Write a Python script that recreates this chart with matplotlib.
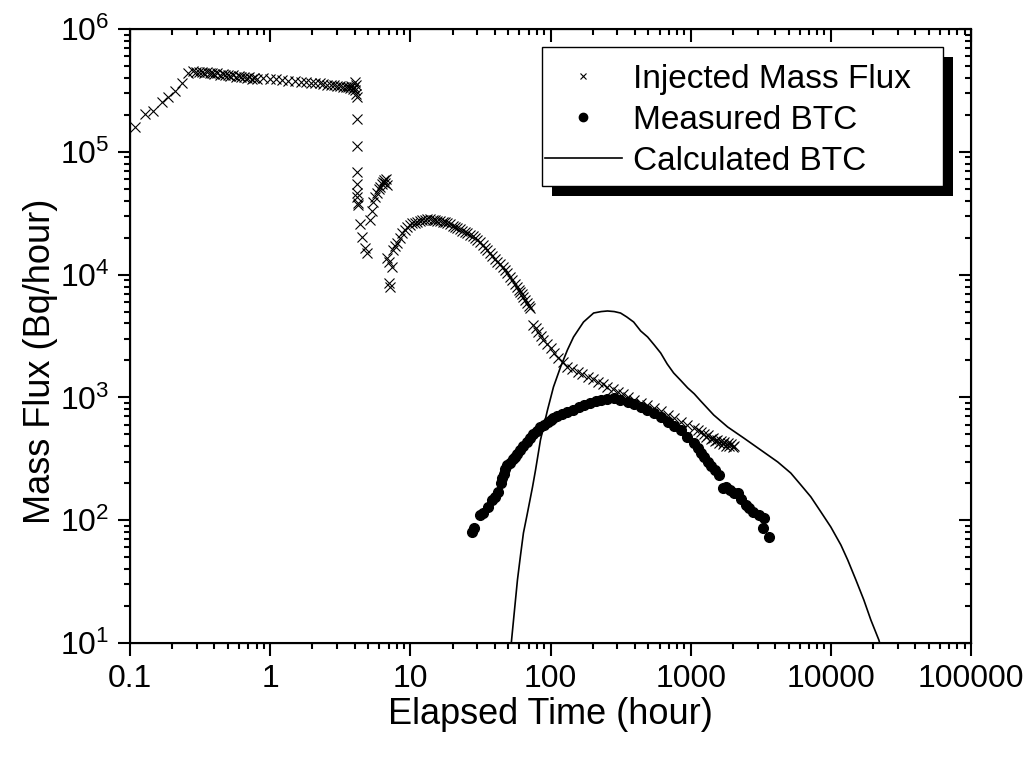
import numpy as np
import matplotlib
matplotlib.use("Agg")
import matplotlib.pyplot as plt
from matplotlib.patches import Rectangle
from matplotlib.ticker import LogLocator, FixedLocator, FixedFormatter, NullFormatter

plt.rcParams['font.family'] = ['Liberation Sans', 'DejaVu Sans']
plt.rcParams['mathtext.default'] = 'regular'

# injected mass flux (hour, Bq/hour)
injected = [
    (0.109, 1.6e5), (0.128, 2.05e5), (0.146, 2.15e5), (0.169, 2.55e5), (0.187, 2.8e5),
    (0.21, 3.15e5), (0.235, 3.65e5), (0.26, 4.4e5),
    (0.28, 4.55e5), (0.295, 4.5e5), (0.31, 4.45e5), (0.325, 4.5e5), (0.34, 4.4e5),
    (0.355, 4.45e5), (0.37, 4.35e5), (0.385, 4.4e5), (0.40, 4.3e5), (0.42, 4.35e5),
    (0.44, 4.25e5), (0.46, 4.3e5), (0.48, 4.2e5), (0.50, 4.25e5), (0.52, 4.15e5),
    (0.545, 4.2e5), (0.57, 4.1e5), (0.595, 4.15e5), (0.62, 4.05e5), (0.65, 4.1e5),
    (0.68, 4.0e5), (0.71, 4.05e5), (0.74, 3.95e5), (0.77, 4.0e5), (0.80, 3.95e5),
    (0.89, 4.0e5), (1.0, 3.95e5), (1.1, 3.9e5), (1.22, 3.85e5), (1.35, 3.8e5),
    (1.5, 3.77e5), (1.65, 3.72e5), (1.8, 3.68e5), (1.95, 3.65e5), (2.1, 3.6e5),
    (2.25, 3.6e5), (2.4, 3.55e5), (2.55, 3.52e5), (2.7, 3.5e5), (2.85, 3.47e5),
    (3.0, 3.45e5), (3.15, 3.42e5), (3.3, 3.4e5), (3.45, 3.38e5), (3.6, 3.35e5),
    (3.7, 3.3e5), (3.8, 3.45e5), (3.9, 3.25e5), (3.97, 3.4e5), (4.03, 3.2e5),
    (4.05, 3.7e5), (4.08, 2.95e5), (4.1, 3.5e5),
    (4.15, 2.79e5), (4.16, 1.85e5), (4.17, 1.11e5), (4.18, 6.85e4), (4.18, 5.5e4),
    (4.18, 4.62e4), (4.19, 4.3e4), (4.2, 3.83e4), (4.25, 3.7e4), (4.39, 2.6e4),
    (4.54, 2.02e4), (4.77, 1.65e4), (4.93, 1.5e4),
    (5.18, 2.8e4), (5.3, 3.3e4), (5.44, 3.9e4), (5.6, 4.3e4), (5.81, 4.6e4),
    (6.0, 5.0e4), (6.1, 5.2e4), (6.25, 5.5e4), (6.41, 5.7e4), (6.5, 5.9e4),
    (6.6, 5.6e4), (6.7, 6.0e4), (6.85, 5.4e4),
    (6.85, 1.37e4), (7.0, 8.55e3), (7.2, 7.9e3), (7.1, 1.27e4), (7.4, 1.15e4),
    (7.56, 1.58e4), (7.8, 1.7e4), (8.07, 1.81e4), (8.4, 2.0e4), (8.77, 2.18e4),
    (9.1, 2.3e4), (9.52, 2.44e4), (9.9, 2.55e4), (10.3, 2.63e4), (10.8, 2.65e4),
    (11.2, 2.68e4), (11.7, 2.74e4), (12.2, 2.78e4), (12.7, 2.8e4), (13.2, 2.84e4),
    (13.8, 2.82e4), (14.4, 2.8e4), (15.0, 2.78e4), (15.6, 2.75e4), (16.3, 2.72e4),
    (17.0, 2.68e4), (17.7, 2.66e4), (18.4, 2.63e4), (19.2, 2.56e4), (20.0, 2.5e4),
    (20.8, 2.45e4), (21.7, 2.39e4), (22.6, 2.33e4), (23.5, 2.28e4), (24.5, 2.23e4),
    (25.5, 2.18e4), (26.6, 2.1e4), (27.8, 2.05e4), (29.0, 1.98e4), (30.1, 1.91e4),
    (31.4, 1.83e4), (32.8, 1.75e4), (34.1, 1.66e4), (35.5, 1.58e4), (37.0, 1.5e4),
    (38.5, 1.42e4), (40.1, 1.35e4), (41.8, 1.27e4), (43.6, 1.21e4), (45.5, 1.15e4),
    (47.3, 1.09e4), (49.3, 1.03e4), (51.4, 9.6e3), (53.5, 9.0e3), (55.8, 8.4e3),
    (58.1, 7.9e3), (59.5, 7.5e3), (61.0, 7.2e3), (62.5, 6.9e3), (64.1, 6.6e3),
    (66.0, 6.2e3), (68.0, 5.9e3), (70.0, 5.6e3), (71.9, 5.35e3),
    (75.6, 3890), (78.5, 3650), (82.1, 3410), (85.5, 3150), (89.1, 2940),
    (94, 2720), (100, 2530), (106, 2300), (114, 2090), (122, 1930),
    (132, 1770), (143, 1690), (156, 1610), (169, 1540), (184, 1470),
    (200, 1400), (217, 1330), (235, 1280), (255, 1220), (277, 1160),
    (301, 1110), (327, 1060), (355, 1010), (395, 950), (439, 900),
    (490, 860), (544, 820), (610, 770), (685, 719), (760, 675),
    (849, 631), (945, 595), (1050, 564), (1120, 540), (1179, 523),
    (1240, 505), (1290, 480), (1340, 490), (1390, 455), (1440, 470),
    (1490, 440), (1540, 450), (1590, 425), (1640, 445), (1690, 415),
    (1740, 430), (1790, 405), (1840, 425), (1890, 400), (1950, 415),
    (2000, 395), (2030, 405),
]

# measured breakthrough curve
measured = [
    (27.7, 80), (28.3, 86), (31.6, 110), (33.2, 114), (36.1, 128), (38.5, 146),
    (40.0, 155), (42.5, 170), (44.0, 200), (45.4, 221), (46.5, 240), (47.7, 260),
    (49.3, 280), (51.0, 295), (53.6, 315), (55.5, 325), (58.1, 345), (61.0, 370),
    (64.1, 400), (67.5, 435), (71.9, 470), (75.6, 500), (80.0, 530), (84.8, 574),
    (90.0, 600), (95.2, 630), (100, 660), (105, 680), (112, 705), (120, 730),
    (132, 761), (145, 790), (160, 830), (172, 867), (190, 900), (210, 930),
    (228, 952), (255, 970), (282, 988), (315, 960), (355, 918), (395, 880),
    (439, 836), (490, 790), (544, 747), (610, 690), (685, 631), (760, 590),
    (849, 543), (940, 480), (1050, 426), (1120, 385), (1179, 353), (1239, 327),
    (1320, 300), (1400, 275), (1480, 255), (1585, 233),
    (1693, 183), (1780, 185), (1900, 175), (2050, 168), (2167, 166), (2300, 150),
    (2470, 133), (2600, 125), (2772, 117), (3050, 110), (3260, 86), (3321, 104),
    (3610, 73),
]

# calculated breakthrough curve
calculated = [
    (52.0, 8), (52.6, 10.2), (55.0, 17.2), (58.1, 32.6), (61.0, 51), (64.1, 78.7),
    (68.0, 110), (74.4, 186), (78.2, 256), (84.8, 450), (90.0, 601), (95.2, 789),
    (105, 1216), (118, 1770), (132, 2432), (146, 3105), (172, 4110), (203, 4865),
    (230, 5000), (255, 5055), (285, 5000), (316, 4865), (350, 4520), (392, 4110),
    (440, 3475), (493, 3105), (550, 2672), (611, 2300), (680, 1872), (756, 1581),
    (850, 1374), (952, 1195), (1060, 1070), (1179, 935), (1460, 719), (1837, 574),
    (2391, 467), (3162, 373), (4180, 298), (5180, 242), (6105, 194), (7197, 155),
    (8483, 117), (10000, 88), (11800, 62.8), (13200, 47.4), (15100, 32.6),
    (17200, 22.4), (19300, 15.4), (22000, 10.6), (22600, 9.5),
]

x_ticks = [0.1, 1, 10, 100, 1000, 10000, 100000]
x_labels = ['0.1', '1', '10', '100', '1000', '10000', '100000']

W, H = 1033, 758
fig = plt.figure(figsize=(W / 100, H / 100), dpi=100)
ax = fig.add_axes([130 / W, 1 - 643 / H, 841 / W, 614 / H])

t, f = zip(*injected)
ax.plot(t, f, ls='none', marker='x', ms=7.5, mew=0.8, color='k', label='Injected Mass Flux')
t, f = zip(*measured)
ax.plot(t, f, ls='none', marker='o', ms=7, color='k', label='Measured BTC')
t, f = zip(*calculated)
ax.plot(t, f, '-', lw=1.2, color='k', label='Calculated BTC')

ax.set_xscale('log')
ax.set_yscale('log')
ax.set_xlim(0.1, 1e5)
ax.set_ylim(10, 1e6)
ax.xaxis.set_major_locator(FixedLocator(x_ticks))
ax.xaxis.set_major_formatter(FixedFormatter(x_labels))
ax.xaxis.set_minor_locator(LogLocator(base=10, subs=np.arange(2, 10), numticks=20))
ax.xaxis.set_minor_formatter(NullFormatter())
ax.yaxis.set_minor_locator(LogLocator(base=10, subs=np.arange(2, 10), numticks=20))
ax.yaxis.set_minor_formatter(NullFormatter())
ax.tick_params(which='both', direction='out', labelsize=23, width=1.5)
ax.tick_params(which='major', length=9, pad=6)
ax.tick_params(which='minor', length=4.5)
for s in ax.spines.values():
    s.set_linewidth(1.5)

# mirrored ticks pointing inward on top and right
axt = ax.twiny()
axt.set_xscale('log')
axt.set_xlim(0.1, 1e5)
axr = ax.twinx()
axr.set_yscale('log')
axr.set_ylim(10, 1e6)
for a, axis in ((axt, axt.xaxis), (axr, axr.yaxis)):
    axis.set_major_locator(LogLocator(base=10, numticks=20))
    axis.set_minor_locator(LogLocator(base=10, subs=np.arange(2, 10), numticks=20))
    axis.set_major_formatter(NullFormatter())
    axis.set_minor_formatter(NullFormatter())
    a.tick_params(which='both', direction='in', width=1.5)
    a.tick_params(which='major', length=9)
    a.tick_params(which='minor', length=4.5)

ax.set_xlabel('Elapsed Time (hour)', fontsize=26, labelpad=2)
ax.set_ylabel('Mass Flux (Bq/hour)', fontsize=26)
ax.yaxis.set_label_coords(-0.0856, 0.458)

# legend: handles and text only, box and shadow drawn by hand
leg = ax.legend(loc='upper left', bbox_to_anchor=((545 - 130) / 841, (643 - 64) / 614),
                fontsize=24, frameon=False, borderpad=0, labelspacing=0.3,
                handlelength=2.3, handletextpad=0.35, borderaxespad=0)
leg.legend_handles[0].set_markersize(5)
leg.legend_handles[1].set_markersize(6)
leg.set_zorder(10)

box = (542, 47, 401, 139)  # left, top, width, height in pixels
ax.add_artist(Rectangle((box[0] / W + 10 / W, 1 - (box[1] + box[3] + 10) / H), box[2] / W, box[3] / H,
                        transform=fig.transFigure, facecolor='k', edgecolor='none',
                        zorder=8, clip_on=False))
ax.add_artist(Rectangle((box[0] / W, 1 - (box[1] + box[3]) / H), box[2] / W, box[3] / H,
                        transform=fig.transFigure, facecolor='white', edgecolor='k',
                        lw=1.0, zorder=9, clip_on=False))

fig.savefig('out.png', dpi=100)
